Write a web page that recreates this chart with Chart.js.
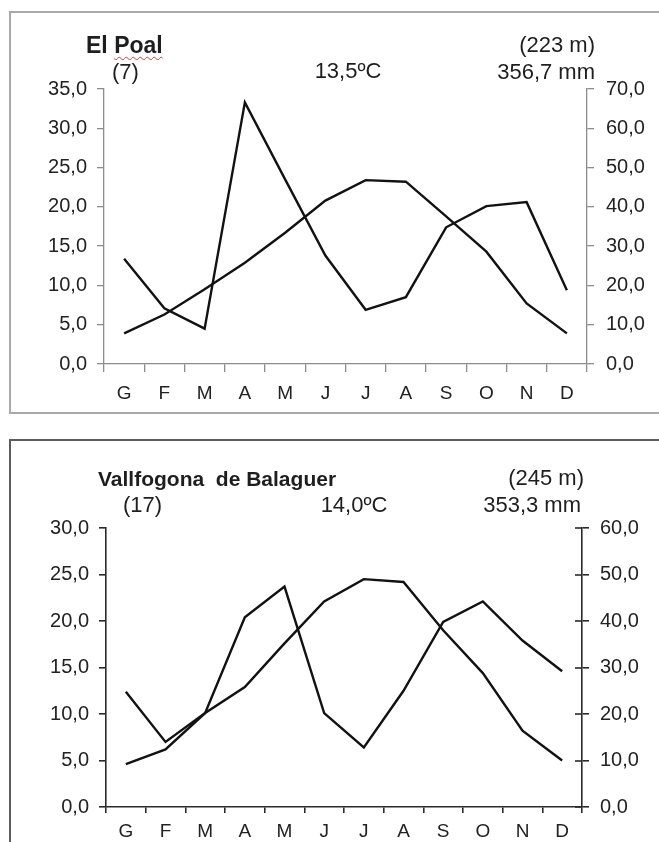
<!DOCTYPE html>
<html><head><meta charset="utf-8">
<script src="https://cdn.jsdelivr.net/npm/chart.js@4/dist/chart.umd.min.js"></script>
<style>
html,body{margin:0;padding:0;background:#fff;width:659px;height:842px;overflow:hidden;}
body{position:relative;font-family:"Liberation Sans",Arial,sans-serif;color:#1e1e1e;}
.box1{position:absolute;left:9px;top:11px;width:720px;height:403px;border:2px solid #a9a9a9;box-sizing:border-box;}
.box2{position:absolute;left:9px;top:439px;width:720px;height:500px;border:2px solid #5c5c5c;box-sizing:border-box;}
canvas{position:absolute;left:0;}
#c1{top:0;}
#c2{top:442px;}
.t{position:absolute;white-space:pre;line-height:1;font-size:22px;}
.b{font-weight:bold;}
.wavy{text-decoration:underline wavy #e03a3a;text-decoration-thickness:1px;text-underline-offset:3px;}
</style></head>
<body>
<div class="box1"></div>
<div class="box2"></div>
<canvas id="c1" width="659" height="420"></canvas>
<canvas id="c2" width="659" height="400"></canvas>

<div class="t b" style="left:86px;top:33.5px;font-size:23px;">El <span class="wavy">Poal</span></div>
<div class="t" style="right:64px;top:34.4px;">(223 m)</div>
<div class="t" style="left:112px;top:61.4px;">(7)</div>
<div class="t" style="left:348px;top:59.8px;transform:translateX(-50%);">13,5ºC</div>
<div class="t" style="right:64px;top:60.6px;">356,7 mm</div>

<div class="t b" style="left:98px;top:468px;font-size:21px;">Vallfogona  de Balaguer</div>
<div class="t" style="right:75px;top:467.4px;">(245 m)</div>
<div class="t" style="left:123px;top:494.4px;">(17)</div>
<div class="t" style="left:354px;top:494.4px;transform:translateX(-50%);">14,0ºC</div>
<div class="t" style="right:78px;top:494.2px;">353,3 mm</div>

<script>
// ---- data ----
const months = ['G','F','M','A','M','J','J','A','S','O','N','D'];

// El Poal
const poalTemp = [3.9, 6.3, 9.5, 12.9, 16.7, 20.8, 23.4, 23.2, 18.8, 14.3, 7.7, 3.9];      // ºC
const poalPrec = [26.8, 14.2, 9.0, 66.6, 47.0, 27.6, 13.8, 17.0, 34.8, 40.2, 41.2, 18.8]; // mm

// Vallfogona de Balaguer
const vallTemp = [4.6, 6.2, 10.1, 12.9, 17.6, 22.1, 24.5, 24.2, 19.0, 14.4, 8.2, 5.0];
const vallPrec = [24.8, 14.0, 20.2, 40.8, 47.4, 20.2, 12.8, 25.0, 39.8, 44.2, 35.8, 29.2];

// tick labels
const poalTempTicks = ['0,0','5,0','10,0','15,0','20,0','25,0','30,0','35,0'];
const poalPrecTicks = ['0,0','10,0','20,0','30,0','40,0','50,0','60,0','70,0'];
const vallTempTicks = ['0,0','5,0','10,0','15,0','20,0','25,0','30,0'];
const vallPrecTicks = ['0,0','10,0','20,0','30,0','40,0','50,0','60,0'];

Chart.defaults.font.family = '"Liberation Sans", Arial, sans-serif';
Chart.defaults.color = '#222';

const innerTicks = {
  id: 'innerTicks',
  afterDraw(chart, args, o) {
    if (!o || !o.enabled) return;
    const s = chart.scales.y1, ctx = chart.ctx;
    ctx.save();
    ctx.strokeStyle = o.color; ctx.lineWidth = o.width;
    s.ticks.forEach(t => {
      const y = Math.round(s.getPixelForValue(t.value));
      ctx.beginPath(); ctx.moveTo(s.left - o.len, y); ctx.lineTo(s.left, y); ctx.stroke();
    });
    ctx.restore();
  }
};

function build(id, cfg) {
  const line = {borderColor: '#121212', borderWidth: 2.4, pointRadius: 0, tension: 0, fill: false};
  const axisColor = cfg.axisColor;
  return new Chart(document.getElementById(id), {
    type: 'line',
    data: {
      labels: months,
      datasets: [
        Object.assign({label: 'T', data: cfg.temp, yAxisID: 'y'}, line),
        Object.assign({label: 'P', data: cfg.prec, yAxisID: 'y1'}, line)
      ]
    },
    options: {
      responsive: false, animation: false, devicePixelRatio: 1,
      layout: {padding: {top: cfg.top, left: 0, right: 0, bottom: 0}},
      plugins: {legend: {display: false}, tooltip: {enabled: false}, title: {display: false},
        innerTicks: {enabled: cfg.inner, color: axisColor, width: cfg.axisWidth, len: 7}},
      scales: {
        x: {
          type: 'category', offset: true,
          grid: {offset: true, drawOnChartArea: false, tickLength: cfg.xTick, color: axisColor, lineWidth: cfg.axisWidth},
          border: {display: true, color: axisColor, width: cfg.axisWidth},
          ticks: {font: {size: 19}, padding: cfg.xPad, maxRotation: 0, autoSkip: false, color: '#222'},
          afterFit(s) { s.height = cfg.xH; }
        },
        y: {
          position: 'left', min: 0, max: cfg.tMax,
          ticks: {stepSize: cfg.tStep, font: {size: 20}, padding: 10, color: '#222',
            callback: v => cfg.tTicks[Math.round(v / cfg.tStep)]},
          grid: {drawOnChartArea: false, tickLength: 7, color: axisColor, lineWidth: cfg.axisWidth},
          border: {display: true, color: axisColor, width: cfg.axisWidth},
          afterFit(s) { s.width = cfg.leftW; }
        },
        y1: {
          position: 'right', min: 0, max: cfg.pMax,
          ticks: {stepSize: cfg.pStep, font: {size: 20}, padding: cfg.rPad, color: '#222',
            callback: v => cfg.pTicks[Math.round(v / cfg.pStep)]},
          grid: {drawOnChartArea: false, tickLength: 7, color: axisColor, lineWidth: cfg.axisWidth},
          border: {display: true, color: axisColor, width: cfg.axisWidth},
          afterFit(s) { s.width = cfg.rightW; }
        }
      }
    },
    plugins: [innerTicks]
  });
}

build('c1', {
  temp: poalTemp, prec: poalPrec, tTicks: poalTempTicks, pTicks: poalPrecTicks,
  tMax: 35, tStep: 5, pMax: 70, pStep: 10,
  top: 89, leftW: 104, rightW: 72, xH: 56, xTick: 8, xPad: 10, rPad: 12,
  axisColor: '#8c8c8c', axisWidth: 1.3, inner: false
});

build('c2', {
  temp: vallTemp, prec: vallPrec, tTicks: vallTempTicks, pTicks: vallPrecTicks,
  tMax: 30, tStep: 5, pMax: 60, pStep: 10,
  top: 86, leftW: 106, rightW: 77, xH: 35, xTick: 6, xPad: 7, rPad: 11,
  axisColor: '#2a2a2a', axisWidth: 1.6, inner: true
});
</script>
</body></html>
